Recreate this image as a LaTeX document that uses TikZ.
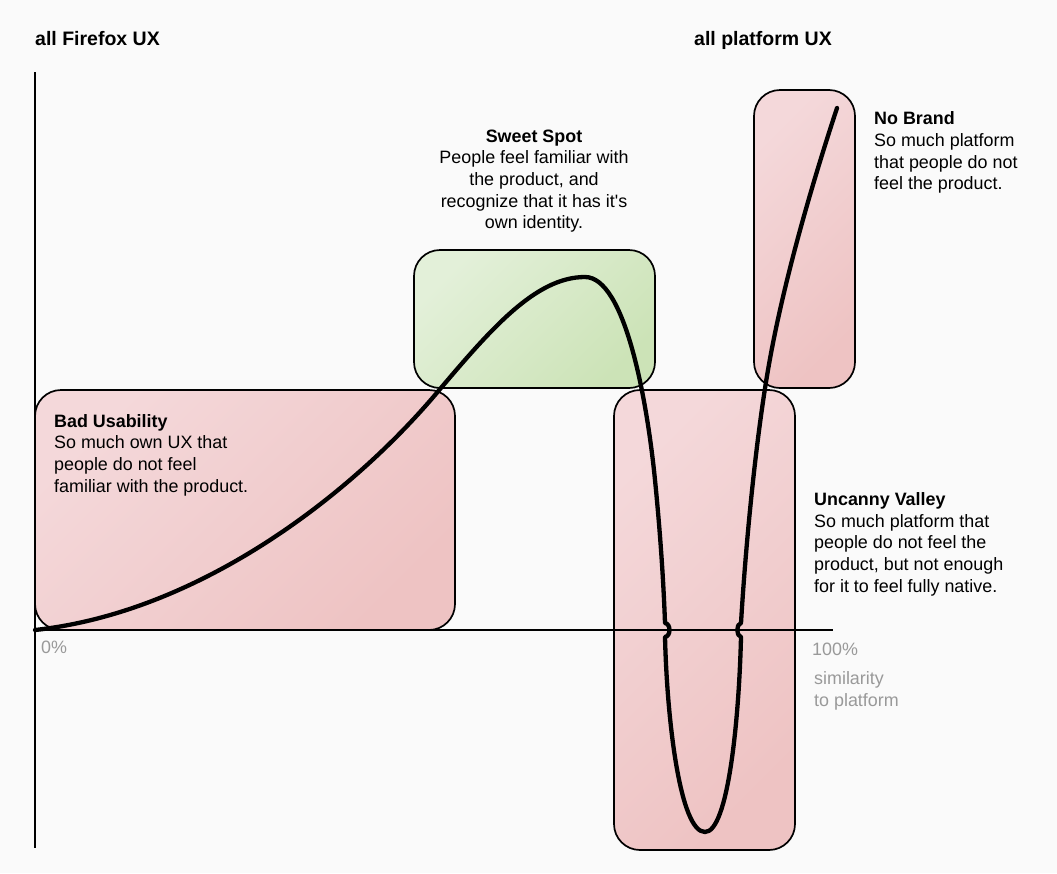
\documentclass[tikz,border=0pt]{standalone}
\usepackage{fontspec}
\setmainfont{Liberation Sans}[Ligatures=TeXOff]
\definecolor{bgcol}{HTML}{FAFAFA}
\definecolor{pinkA}{HTML}{F4D8DA}
\definecolor{pinkB}{HTML}{EEC3C3}
\definecolor{greenA}{HTML}{E3F0D9}
\definecolor{greenB}{HTML}{CCE3B7}
\definecolor{labgray}{HTML}{999999}
\begin{document}
\begin{tikzpicture}[x=1pt,y=-1pt,
		zone/.style={draw,line width=1.7pt,rounded corners=26pt,inner sep=0pt,
					top color=pinkA,bottom color=pinkB,shading angle=45},
		sweet/.style={zone,top color=greenA,bottom color=greenB,shading angle=45},
		txt/.style={inner sep=0pt,font=\fontsize{17.9}{21.6}\selectfont,align=left},
		head/.style={inner sep=0pt,font=\fontsize{19.5}{23}\selectfont\bfseries,anchor=base west},
		axlab/.style={txt,text=labgray}]
	\fill[bgcol] (0,0) rectangle (1057,873);
	\useasboundingbox (0,0) rectangle (1057,873);
	% zones
	\node[zone,minimum width=420pt,minimum height=240pt] (badbox) at (245,510) {};
	\node[sweet,minimum width=241pt,minimum height=138pt] (sweetbox) at (534.5,319) {};
	\node[zone,minimum width=181pt,minimum height=460pt] (valleybox) at (704.5,620) {};
	\node[zone,minimum width=101pt,minimum height=298pt] (nobrandbox) at (804.5,239) {};
	% axes
	\coordinate (origin) at (35,630);
	\coordinate (ytop) at (35,72);
	\coordinate (ybot) at (35,848);
	\coordinate (xend) at (833,630);
	\draw[line width=1.7pt] (ytop) -- (ybot);
	\draw[line width=1.7pt] (origin) -- (xend);
	% the curve
	\draw[line width=4.3pt,line cap=round,line join=round] (origin)
		.. controls (200,612) and (350,495) .. (435,395)
		.. controls (490,330) and (535,277) .. (585,277)
		.. controls (625,277) and (647,400) .. (655,480)
		.. controls (661.5,545) and (664,595) .. (665,623)
		.. controls (671,624) and (671,636) .. (665,637)
		.. controls (667,720) and (680,832) .. (705,832)
		.. controls (728,832) and (739,720) .. (741,637)
		.. controls (736,636) and (736,624) .. (741,623)
		.. controls (746,540) and (756,440) .. (768,370)
		.. controls (782,288) and (810,190) .. (837,108);
	% texts
	\node[head] (firefox) at (35,45) {all Firefox UX};
	\node[head] (platform) at (694,45) {all platform UX};
	\node[txt,anchor=north west] (badtxt) at (54,414.2)
		{\textbf{Bad Usability}\\So much own UX that\\people do not feel\\familiar with the product.};
	\node[txt,align=center,anchor=north] (sweettxt) at (534,129.6)
		{\textbf{Sweet Spot}\\People feel familiar with\\the product, and\\recognize that it has it's\\own identity.};
	\node[txt,anchor=north west] (nobrandtxt) at (874,111.8)
		{\textbf{No Brand}\\So much platform\\that people do not\\feel the product.};
	\node[txt,anchor=north west] (valleytxt) at (814,492.5)
		{\textbf{Uncanny Valley}\\So much platform that\\people do not feel the\\product, but not enough\\for it to feel fully native.};
	\node[axlab,anchor=base west] (zero) at (41,653) {0\%};
	\node[axlab,anchor=base west] (hundred) at (812,655) {100\%};
	\node[axlab,anchor=north west] (xname) at (814,671.5) {similarity\\to platform};
\end{tikzpicture}
\end{document}
